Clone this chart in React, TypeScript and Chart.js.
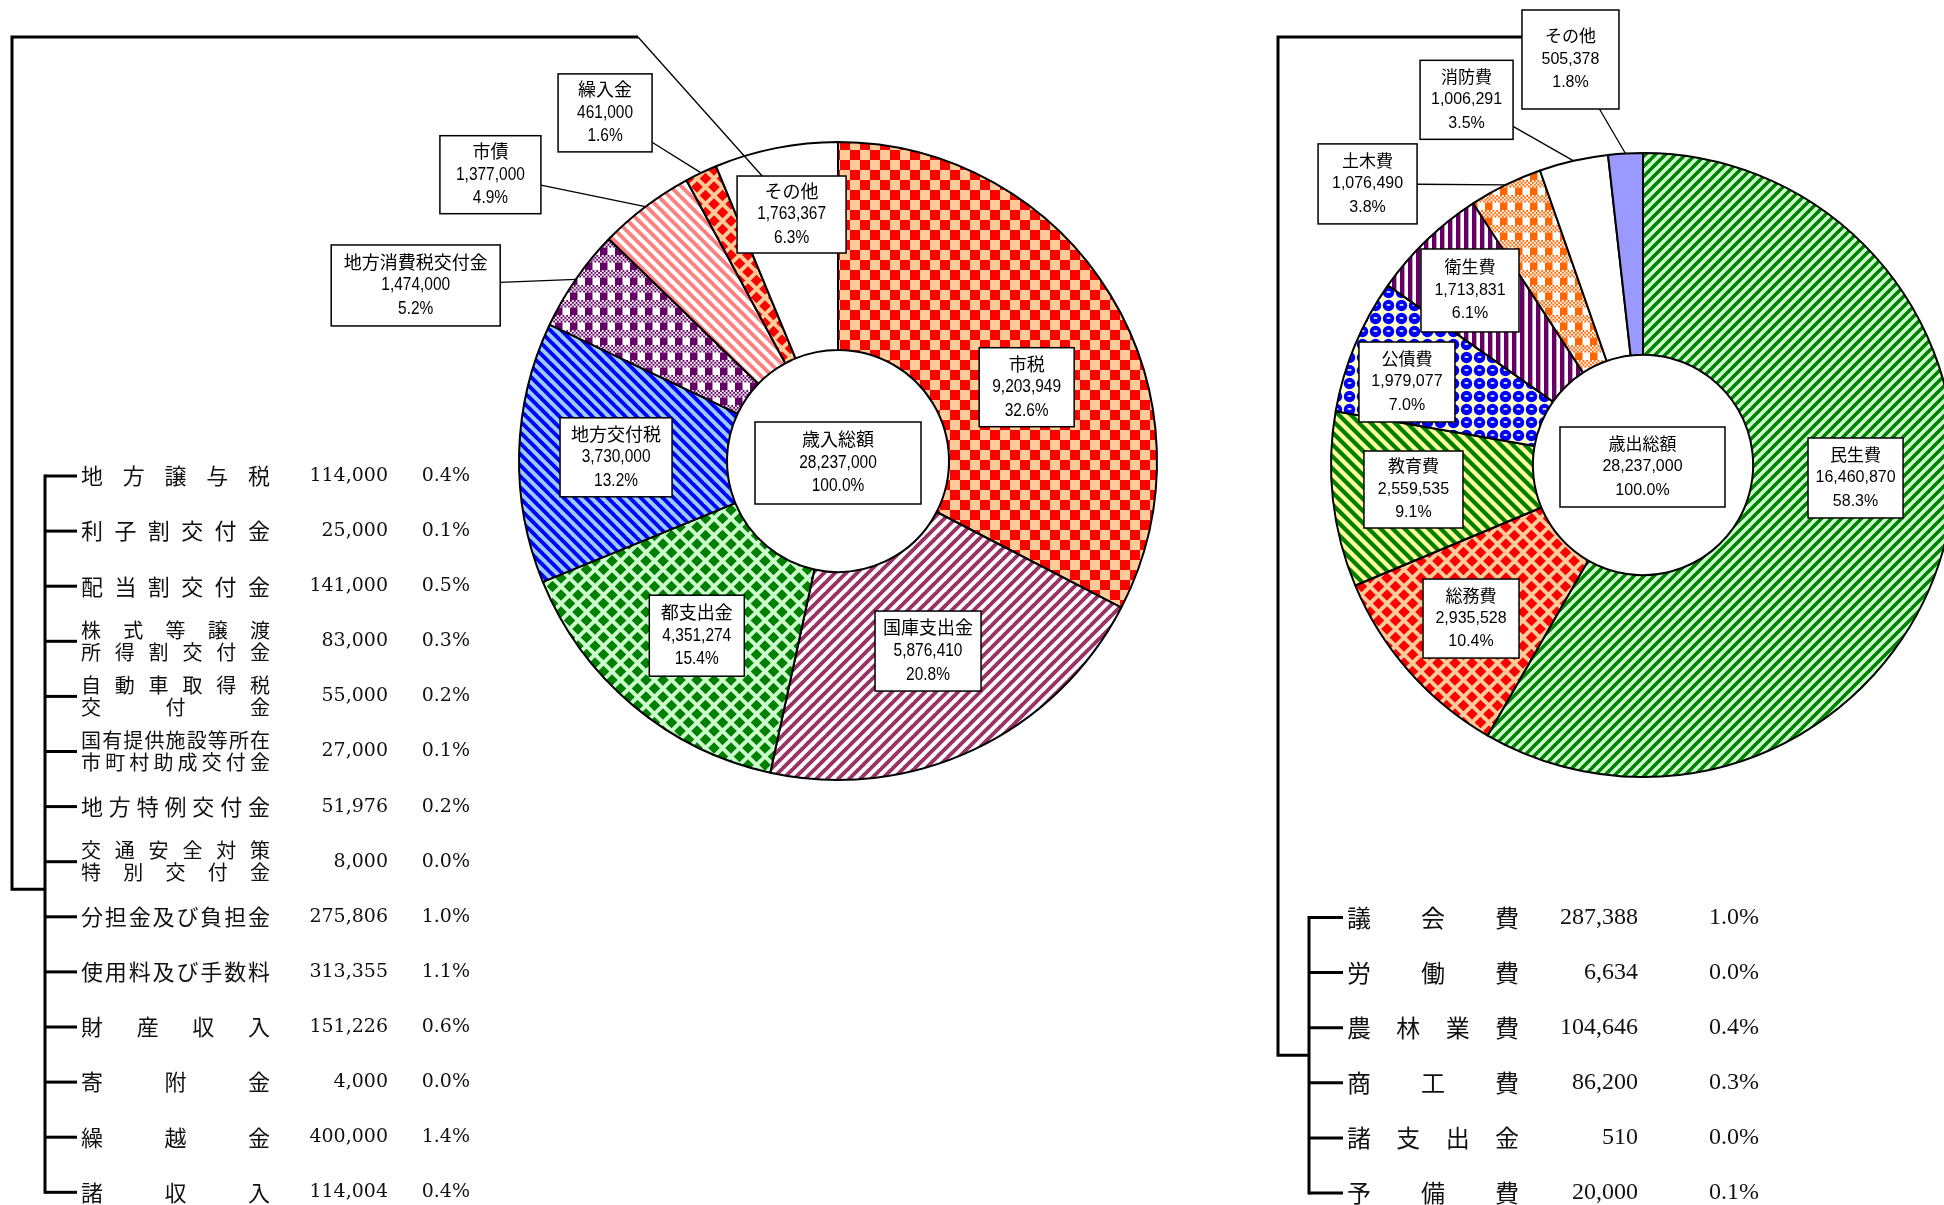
import React, { useEffect, useRef } from 'react';
import { Chart, registerables } from 'chart.js';

Chart.register(...registerables);

// ---------------- data ----------------
const revenueLabels = ['市税', '国庫支出金', '都支出金', '地方交付税', '地方消費税交付金', '市債', '繰入金', 'その他'];
const revenueValues = [9203949, 5876410, 4351274, 3730000, 1474000, 1377000, 461000, 1763367];
const revenuePercents = ['32.6%', '20.8%', '15.4%', '13.2%', '5.2%', '4.9%', '1.6%', '6.3%'];
const revenueCenter = ['歳入総額', '28,237,000', '100.0%'];

const expenseLabels = ['民生費', '総務費', '教育費', '公債費', '衛生費', '土木費', '消防費', 'その他'];
const expenseValues = [16460870, 2935528, 2559535, 1979077, 1713831, 1076490, 1006291, 505378];
const expensePercents = ['58.3%', '10.4%', '9.1%', '7.0%', '6.1%', '3.8%', '3.5%', '1.8%'];
const expenseCenter = ['歳出総額', '28,237,000', '100.0%'];

const revenueOtherItems = [
  ['地方譲与税'], ['利子割交付金'], ['配当割交付金'], ['株式等譲渡', '所得割交付金'],
  ['自動車取得税', '交付金'], ['国有提供施設等所在', '市町村助成交付金'], ['地方特例交付金'],
  ['交通安全対策', '特別交付金'], ['分担金及び負担金'], ['使用料及び手数料'], ['財産収入'],
  ['寄附金'], ['繰越金'], ['諸収入'],
];
const revenueOtherValues = [114000, 25000, 141000, 83000, 55000, 27000, 51976, 8000, 275806, 313355, 151226, 4000, 400000, 114004];
const revenueOtherPercents = ['0.4%', '0.1%', '0.5%', '0.3%', '0.2%', '0.1%', '0.2%', '0.0%', '1.0%', '1.1%', '0.6%', '0.0%', '1.4%', '0.4%'];

const expenseOtherItems = [['議会費'], ['労働費'], ['農林業費'], ['商工費'], ['諸支出金'], ['予備費']];
const expenseOtherValues = [287388, 6634, 104646, 86200, 510, 20000];
const expenseOtherPercents = ['1.0%', '0.0%', '0.4%', '0.3%', '0.0%', '0.1%'];

// ---------------- layout (not data) ----------------
type BoxSpec = { mode: 'in' | 'out'; dx: number; dy: number; w: number; h: number };

const revenueBoxLayout: BoxSpec[] = [
  { mode: 'in', dx: 5, dy: 38, w: 95, h: 79 },
  { mode: 'in', dx: -1.5, dy: -4.5, w: 106, h: 80 },
  { mode: 'in', dx: -3, dy: 10, w: 95, h: 81 },
  { mode: 'in', dx: -7, dy: 2, w: 112, h: 79 },
  { mode: 'out', dx: -160, dy: 6, w: 169, h: 81 },
  { mode: 'out', dx: -155, dy: -32, w: 101, h: 78 },
  { mode: 'out', dx: -96, dy: -60, w: 94, h: 78 },
  { mode: 'in', dx: -4.5, dy: -35.6, w: 109, h: 77 },
];
const expenseBoxLayout: BoxSpec[] = [
  { mode: 'in', dx: 8.6, dy: -41.4, w: 95, h: 80 },
  { mode: 'in', dx: -13.7, dy: 13.9, w: 96, h: 79 },
  { mode: 'in', dx: -19.8, dy: 1, w: 99, h: 77 },
  { mode: 'in', dx: -41.1, dy: -2.1, w: 96, h: 80 },
  { mode: 'in', dx: -26.6, dy: -22.5, w: 98, h: 83 },
  { mode: 'out', dx: -138, dy: -1, w: 99, h: 80 },
  { mode: 'out', dx: -107, dy: -61, w: 93, h: 79 },
  { mode: 'out', dx: -55, dy: -94, w: 97, h: 99 },
];

const LEFT_W = 1200;
const RIGHT_X = 1200;
const RIGHT_W = 744;

// ---------------- patterns ----------------
function tile(w: number, h: number, draw: (g: CanvasRenderingContext2D) => void): CanvasPattern {
  const c = document.createElement('canvas');
  c.width = w;
  c.height = h;
  const g = c.getContext('2d') as CanvasRenderingContext2D;
  draw(g);
  return g.createPattern(c, 'repeat') as CanvasPattern;
}
function checker(fg: string, bg: string, s: number) {
  return tile(2 * s, 2 * s, (g) => {
    g.fillStyle = bg; g.fillRect(0, 0, 2 * s, 2 * s);
    g.fillStyle = fg; g.fillRect(0, 0, s, s); g.fillRect(s, s, s, s);
  });
}
function diagonal(fg: string, bg: string, p: number, up: boolean, frac: number) {
  return tile(p, p, (g) => {
    g.fillStyle = bg; g.fillRect(0, 0, p, p);
    g.strokeStyle = fg; g.lineWidth = (p * frac) / Math.SQRT2;
    for (let k = -2; k <= 3; k++) {
      const c = k * p;
      g.beginPath();
      if (up) { g.moveTo(c + 2 * p, -2 * p); g.lineTo(c - 2 * p, 2 * p); }
      else { g.moveTo(c - 2 * p, -2 * p); g.lineTo(c + 2 * p, 2 * p); }
      g.stroke();
    }
  });
}
function diamonds(fg: string, bg: string, p: number, h: number) {
  return tile(p, p, (g) => {
    g.fillStyle = bg; g.fillRect(0, 0, p, p);
    g.fillStyle = fg;
    const cs = [[p / 2, p / 2], [0, 0], [p, 0], [0, p], [p, p]];
    for (const [cx, cy] of cs) {
      g.beginPath(); g.moveTo(cx, cy - h); g.lineTo(cx + h, cy); g.lineTo(cx, cy + h); g.lineTo(cx - h, cy); g.closePath(); g.fill();
    }
  });
}
function plaid(fg: string, bg: string, s: number) {
  const u = s / 8;
  return tile(s, s, (g) => {
    g.fillStyle = bg; g.fillRect(0, 0, s, s);
    g.fillStyle = fg;
    for (let r = 0; r < 4; r++) for (let c = 0; c < 8; c++) if ((r + c) % 2 === 0) g.fillRect(c * u, r * u, u, u);
    g.fillRect(0, 4 * u, 4 * u, 4 * u);
  });
}
function spheres(fg: string, bg: string, s: number) {
  return tile(s, s, (g) => {
    g.fillStyle = bg; g.fillRect(0, 0, s, s);
    g.fillStyle = fg; g.beginPath(); g.arc(s / 2, s / 2, s * 0.44, 0, Math.PI * 2); g.fill();
    g.fillStyle = '#ffffff'; g.fillRect(s * 0.36, s * 0.4, s * 0.28, s * 0.12);
  });
}
function vstripes(fg: string, bg: string, p: number, frac: number) {
  return tile(p, p, (g) => {
    g.fillStyle = bg; g.fillRect(0, 0, p, p);
    g.fillStyle = fg; g.fillRect(0, 0, p * frac, p);
  });
}

// ---------------- drawing helpers ----------------
function drawJustified(ctx: CanvasRenderingContext2D, text: string, x0: number, x1: number, y: number) {
  const chars = Array.from(text);
  ctx.textAlign = 'left';
  if (chars.length === 1) { ctx.fillText(text, x0, y); return; }
  const widths = chars.map((c) => ctx.measureText(c).width);
  const total = widths.reduce((a, b) => a + b, 0);
  const gap = (x1 - x0 - total) / (chars.length - 1);
  let x = x0;
  chars.forEach((c, i) => { ctx.fillText(c, x, y); x += widths[i] + gap; });
}

type BoxStyle = { titleFont: string; numFont: string; numScale: number; lineGap: number };

function drawBox(ctx: CanvasRenderingContext2D, cx: number, cy: number, w: number, h: number, lines: string[], st: BoxStyle) {
  const x = cx - w / 2, y = cy - h / 2;
  ctx.fillStyle = '#ffffff';
  ctx.fillRect(x, y, w, h);
  ctx.strokeStyle = '#000000';
  ctx.lineWidth = 1.5;
  ctx.strokeRect(x, y, w, h);
  ctx.fillStyle = '#000000';
  ctx.textAlign = 'center';
  ctx.textBaseline = 'middle';
  lines.forEach((t, k) => {
    const ty = cy + (k - 1) * st.lineGap;
    ctx.font = k === 0 ? st.titleFont : st.numFont;
    const sx = k === 0 ? 1 : st.numScale;
    ctx.save();
    ctx.translate(cx, ty);
    ctx.scale(sx, 1);
    ctx.fillText(t, 0, 0);
    ctx.restore();
  });
}

function edgePoint(cx: number, cy: number, w: number, h: number, tx: number, ty: number) {
  const dx = tx - cx, dy = ty - cy;
  const sx = dx !== 0 ? w / 2 / Math.abs(dx) : Infinity;
  const sy = dy !== 0 ? h / 2 / Math.abs(dy) : Infinity;
  const s = Math.min(sx, sy);
  return [cx + dx * s, cy + dy * s];
}

type ListSpec = {
  ox: number; top: number; gap: number; bx: number; tickEnd: number; labelL: number; labelR: number;
  valueR: number; pctR: number; font1: string; font2: string; numFont: string; lineOff: number;
};

function drawList(ctx: CanvasRenderingContext2D, sp: ListSpec, items: string[][], values: number[], pcts: string[]) {
  const ys = items.map((_, i) => sp.top + i * sp.gap);
  ctx.save();
  ctx.strokeStyle = '#000000';
  ctx.lineWidth = 3;
  ctx.lineCap = 'butt';
  ctx.beginPath();
  ctx.moveTo(sp.bx - sp.ox, ys[0] - 1.5);
  ctx.lineTo(sp.bx - sp.ox, ys[ys.length - 1] + 1.5);
  ctx.stroke();
  ys.forEach((y) => {
    ctx.beginPath();
    ctx.moveTo(sp.bx - sp.ox, y);
    ctx.lineTo(sp.tickEnd - sp.ox, y);
    ctx.stroke();
  });
  ctx.fillStyle = '#111111';
  ctx.textBaseline = 'middle';
  items.forEach((lines, i) => {
    const y = ys[i];
    if (lines.length === 1) {
      ctx.font = sp.font1;
      drawJustified(ctx, lines[0], sp.labelL - sp.ox, sp.labelR - sp.ox, y);
    } else {
      ctx.font = sp.font2;
      drawJustified(ctx, lines[0], sp.labelL - sp.ox, sp.labelR - sp.ox, y - sp.lineOff);
      drawJustified(ctx, lines[1], sp.labelL - sp.ox, sp.labelR - sp.ox, y + sp.lineOff);
    }
    ctx.font = sp.numFont;
    ctx.textAlign = 'right';
    ctx.fillText(values[i].toLocaleString('en-US'), sp.valueR - sp.ox, y);
    ctx.fillText(pcts[i], sp.pctR - sp.ox, y);
  });
  ctx.restore();
  return ys;
}

type LabelCfg = {
  id: string;
  labels: string[];
  values: number[];
  percents: string[];
  layout: BoxSpec[];
  center: string[];
  centerBox: { dx: number; dy: number; w: number; h: number };
  style: BoxStyle;
  extra: (ctx: CanvasRenderingContext2D, rects: { x: number; y: number; w: number; h: number }[]) => void;
};

function labelPlugin(cfg: LabelCfg) {
  return {
    id: cfg.id,
    afterDatasetsDraw(chart: any) {
      const ctx: CanvasRenderingContext2D = chart.ctx;
      const arcs = chart.getDatasetMeta(0).data as any[];
      const rects: { x: number; y: number; w: number; h: number }[] = [];
      ctx.save();
      let ccx = 0, ccy = 0;
      const boxes: { cx: number; cy: number; sp: BoxSpec; anchor: number[] | null }[] = [];
      arcs.forEach((arc, i) => {
        const p = arc.getProps(['x', 'y', 'startAngle', 'endAngle', 'outerRadius', 'innerRadius'], true);
        ccx = p.x; ccy = p.y;
        const mid = (p.startAngle + p.endAngle) / 2;
        const sp = cfg.layout[i];
        let cx: number, cy: number;
        let anchor: number[] | null = null;
        if (sp.mode === 'in') {
          const r = (p.innerRadius + p.outerRadius) / 2;
          cx = p.x + Math.cos(mid) * r + sp.dx;
          cy = p.y + Math.sin(mid) * r + sp.dy;
        } else {
          const ax = p.x + Math.cos(mid) * p.outerRadius;
          const ay = p.y + Math.sin(mid) * p.outerRadius;
          anchor = [ax, ay];
          cx = ax + sp.dx;
          cy = ay + sp.dy;
        }
        boxes.push({ cx, cy, sp, anchor });
        rects.push({ x: cx - sp.w / 2, y: cy - sp.h / 2, w: sp.w, h: sp.h });
      });
      ctx.strokeStyle = '#000000';
      ctx.lineWidth = 1.3;
      boxes.forEach((b) => {
        if (!b.anchor) return;
        const [sx, sy] = edgePoint(b.cx, b.cy, b.sp.w, b.sp.h, b.anchor[0], b.anchor[1]);
        ctx.beginPath();
        ctx.moveTo(sx, sy);
        ctx.lineTo(b.anchor[0], b.anchor[1]);
        ctx.stroke();
      });
      boxes.forEach((b, i) => {
        drawBox(ctx, b.cx, b.cy, b.sp.w, b.sp.h,
          [cfg.labels[i], cfg.values[i].toLocaleString('en-US'), cfg.percents[i]], cfg.style);
      });
      drawBox(ctx, ccx + cfg.centerBox.dx, ccy + cfg.centerBox.dy, cfg.centerBox.w, cfg.centerBox.h, cfg.center, cfg.style);
      cfg.extra(ctx, rects);
      ctx.restore();
    },
  };
}

export default function App() {
  const leftRef = useRef<HTMLCanvasElement>(null);
  const rightRef = useRef<HTMLCanvasElement>(null);

  useEffect(() => {
    document.body.style.margin = '0';
    document.body.style.overflow = 'hidden';

    const revenueFills = [
      checker('#FF0000', '#FFCC99', 10),
      diagonal('#993366', '#FFFFFF', 11, true, 0.5),
      diamonds('#008000', '#CCFFCC', 17, 5.8),
      diagonal('#0000FF', '#99CCFF', 11, false, 0.5),
      plaid('#660066', '#FFFFFF', 15),
      diagonal('#FF8080', '#FFFFFF', 11, false, 0.5),
      diamonds('#FF0000', '#FFCC99', 17, 5.8),
      '#FFFFFF',
    ];
    const expenseFills = [
      diagonal('#008000', '#CCFFCC', 10, true, 0.5),
      diamonds('#FF0000', '#FFCC99', 17, 5.8),
      diagonal('#008000', '#FFFF99', 12, false, 0.5),
      spheres('#0000FF', '#FFFFCC', 13),
      vstripes('#660066', '#FFFFFF', 8, 0.55),
      plaid('#FF6600', '#FFFFFF', 15),
      '#FFFFFF',
      '#9999FF',
    ];

    const leftStyle: BoxStyle = {
      titleFont: '18px "Noto Sans CJK JP"',
      numFont: '18px "Liberation Sans", "Noto Sans CJK JP"',
      numScale: 0.86,
      lineGap: 23.5,
    };
    const rightStyle: BoxStyle = {
      titleFont: '17px "Noto Sans CJK JP"',
      numFont: '16px "Liberation Sans", "Noto Sans CJK JP"',
      numScale: 1,
      lineGap: 23.5,
    };

    const leftList: ListSpec = {
      ox: 0, top: 476, gap: 55.1, bx: 45, tickEnd: 77, labelL: 81, labelR: 270, valueR: 388, pctR: 470,
      font1: '22px "Noto Sans CJK JP"', font2: '20px "Noto Sans CJK JP"', numFont: '19px "DejaVu Serif"', lineOff: 11,
    };
    const rightList: ListSpec = {
      ox: RIGHT_X, top: 917.5, gap: 55.1, bx: 1309, tickEnd: 1343, labelL: 1347, labelR: 1519, valueR: 1638, pctR: 1759,
      font1: '24px "Noto Sans CJK JP"', font2: '20px "Noto Sans CJK JP"', numFont: '24px "Liberation Serif"', lineOff: 11,
    };

    const common = (padding: any, radius: number, cutout: string) => ({
      responsive: false,
      animation: false as const,
      devicePixelRatio: 1,
      events: [] as any[],
      radius,
      cutout,
      layout: { padding },
      plugins: { legend: { display: false }, tooltip: { enabled: false } },
    });

    const left = new Chart(leftRef.current as HTMLCanvasElement, {
      type: 'doughnut',
      data: {
        labels: revenueLabels,
        datasets: [{ data: revenueValues, backgroundColor: revenueFills as any, borderColor: '#000000', borderWidth: 2, clip: false as any }],
      },
      options: common({ left: 518, right: 42, top: 142, bottom: 425 }, 319, '34.8%') as any,
      plugins: [labelPlugin({
        id: 'revLabels', labels: revenueLabels, values: revenueValues, percents: revenuePercents,
        layout: revenueBoxLayout, center: revenueCenter, centerBox: { dx: 0, dy: 2, w: 166, h: 82 }, style: leftStyle,
        extra: (ctx, rects) => {
          const ys = drawList(ctx, leftList, revenueOtherItems, revenueOtherValues, revenueOtherPercents);
          const other = rects[rects.length - 1];
          const bx = 12, top = 37, cornerX = 638;
          const junction = (ys[7] + ys[8]) / 2;
          ctx.save();
          ctx.strokeStyle = '#000000';
          ctx.lineWidth = 3;
          ctx.lineJoin = 'miter';
          ctx.beginPath();
          ctx.moveTo(cornerX, top);
          ctx.lineTo(bx, top);
          ctx.lineTo(bx, junction);
          ctx.lineTo(leftList.bx, junction);
          ctx.stroke();
          ctx.lineWidth = 1.3;
          ctx.beginPath();
          ctx.moveTo(cornerX, top);
          ctx.lineTo(other.x + other.w * 0.23, other.y);
          ctx.stroke();
          ctx.restore();
        },
      })],
    });

    const right = new Chart(rightRef.current as HTMLCanvasElement, {
      type: 'doughnut',
      data: {
        labels: expenseLabels,
        datasets: [{ data: expenseValues, backgroundColor: expenseFills as any, borderColor: '#000000', borderWidth: 2, clip: false as any }],
      },
      options: common({ left: 142, right: 0, top: 0, bottom: 275 }, 312, '35.3%') as any,
      plugins: [labelPlugin({
        id: 'expLabels', labels: expenseLabels, values: expenseValues, percents: expensePercents,
        layout: expenseBoxLayout, center: expenseCenter, centerBox: { dx: -0.5, dy: 2, w: 165, h: 80 }, style: rightStyle,
        extra: (ctx, rects) => {
          const ys = drawList(ctx, rightList, expenseOtherItems, expenseOtherValues, expenseOtherPercents);
          const other = rects[rects.length - 1];
          const bx = 1278 - RIGHT_X, top = 37;
          const junction = (ys[2] + ys[3]) / 2;
          ctx.save();
          ctx.strokeStyle = '#000000';
          ctx.lineWidth = 3;
          ctx.beginPath();
          ctx.moveTo(other.x, top);
          ctx.lineTo(bx, top);
          ctx.lineTo(bx, junction);
          ctx.lineTo(rightList.bx - RIGHT_X, junction);
          ctx.stroke();
          ctx.restore();
        },
      })],
    });

    return () => {
      left.destroy();
      right.destroy();
    };
  }, []);

  return (
    <div style={{ position: 'relative', width: 1944, height: 1205, background: '#ffffff', overflow: 'hidden' }}>
      <canvas ref={leftRef} width={LEFT_W} height={1205} style={{ position: 'absolute', left: 0, top: 0 }} />
      <canvas ref={rightRef} width={RIGHT_W} height={1205} style={{ position: 'absolute', left: RIGHT_X, top: 0 }} />
    </div>
  );
}
